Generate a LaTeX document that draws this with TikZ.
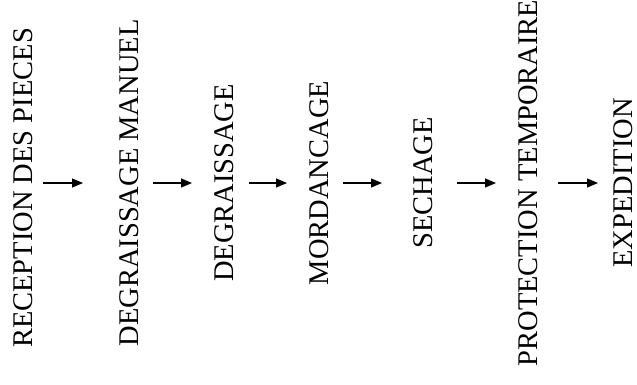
\documentclass[tikz,border=0pt]{standalone}
\usepackage{fontspec}
\setmainfont{Liberation Serif}
\usetikzlibrary{arrows.meta}

\begin{document}
\begin{tikzpicture}[>={Triangle[length=11bp,width=9bp]},line join=bevel,
  etape/.style={rotate=90,anchor=base,inner sep=0pt,text height=18.8bp,text depth=0pt,
    font=\fontsize{28.5bp}{30bp}\selectfont}]
%%
\useasboundingbox (0bp,0bp) rectangle (637bp,385bp);
\node (node_0) at (32bp,197bp) [etape] {RECEPTION DES PIECES};
  \node (node_1) at (138bp,202bp) [etape] {DEGRAISSAGE MANUEL};
  \node (node_2) at (233bp,202bp) [etape] {DEGRAISSAGE};
  \node (node_3) at (328bp,202bp) [etape] {MORDANCAGE};
  \node (node_4) at (432bp,202bp) [etape] {SECHAGE};
  \node (node_5) at (537bp,202bp) [etape] {PROTECTION TEMPORAIRE};
  \node (node_6) at (632bp,202bp) [etape] {EXPEDITION};
  \draw [black,line width=1.1bp,->,shorten <=11bp,shorten >=36bp] (node_0.south |- node_1) -- (node_1);
  \draw [black,line width=1.1bp,->,shorten <=15bp,shorten >=22bp] (node_1) -- (node_2);
  \draw [black,line width=1.1bp,->,shorten <=16bp,shorten >=22bp] (node_2) -- (node_3);
  \draw [black,line width=1.1bp,->,shorten <=15bp,shorten >=31bp] (node_3) -- (node_4);
  \draw [black,line width=1.1bp,->,shorten <=25bp,shorten >=22bp] (node_4) -- (node_5);
  \draw [black,line width=1.1bp,->,shorten <=21bp,shorten >=15bp] (node_5) -- (node_6);
%
\end{tikzpicture}
\end{document}
